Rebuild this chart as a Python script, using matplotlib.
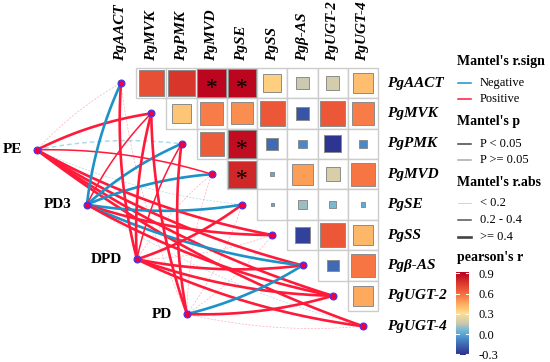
import numpy as np
import matplotlib.pyplot as plt
from matplotlib.colors import LinearSegmentedColormap, Normalize
from matplotlib.patches import Rectangle
from matplotlib.cm import ScalarMappable

plt.rcParams['font.family'] = ['Liberation Serif', 'DejaVu Serif']

genes = ['PgAACT', 'PgMVK', 'PgPMK', 'PgMVD', 'PgSE', 'PgSS', 'Pgβ-AS', 'PgUGT-2', 'PgUGT-4']
envs = ['PE', 'PD3', 'DPD', 'PD']

# pearson's r between genes, upper triangle: row i holds columns i+1 .. 8
pearson_r = [
    [0.68, 0.76, 0.90, 0.90, 0.35, 0.17, 0.19, 0.40],
    [0.38, 0.56, 0.52, 0.66, -0.20, 0.66, 0.56],
    [0.65, 0.88, -0.15, -0.07, -0.30, -0.07],
    [0.80, 0.02, 0.48, 0.20, 0.58],
    [0.01, 0.10, 0.06, 0.02],
    [-0.26, 0.66, 0.42],
    [-0.15, 0.58],
    [0.45],
    [],
]
# significant pairs (row, col)
stars = [(0, 3), (0, 4), (2, 4), (3, 4)]

# mantel test, env -> each gene
mantel_r = {
    'PE':  [0.12, 0.45, -0.22, 0.30, -0.15, 0.42, 0.46, 0.48, 0.44],
    'PD3': [-0.45, 0.30, -0.46, -0.43, -0.47, 0.44, -0.48, 0.45, -0.10],
    'DPD': [0.46, 0.44, 0.30, 0.12, 0.42, 0.10, 0.41, 0.45, 0.43],
    'PD':  [0.10, 0.43, 0.42, 0.12, 0.08, 0.10, -0.44, 0.46, 0.15],
}
mantel_p = {
    'PE':  [0.30, 0.01, 0.20, 0.03, 0.40, 0.01, 0.01, 0.01, 0.01],
    'PD3': [0.01, 0.02, 0.01, 0.01, 0.01, 0.01, 0.01, 0.01, 0.50],
    'DPD': [0.01, 0.01, 0.03, 0.30, 0.01, 0.40, 0.02, 0.01, 0.01],
    'PD':  [0.40, 0.01, 0.01, 0.30, 0.60, 0.50, 0.01, 0.01, 0.20],
}

RED = '#ff1a3a'
BLUE = '#1b92c8'

cmap = LinearSegmentedColormap.from_list('pr', [
    (0.00, '#2c318f'), (0.09, '#3a56a6'), (0.19, '#4a88c6'), (0.27, '#5bb0db'),
    (0.375, '#c5c6b5'), (0.50, '#fee08e'), (0.62, '#fdaa5e'), (0.74, '#f66d3f'),
    (0.86, '#dc3a2c'), (1.00, '#b8001f')])
norm = Normalize(vmin=-0.31, vmax=0.92)

W, H = 550, 362
fig = plt.figure(figsize=(W / 100, H / 100), dpi=100)
ax = fig.add_axes([0, 0, 1, 1])
# one unit = one heatmap cell
cx, cy, x0, y0 = 30.25, 30.4, 121, 83
ax.set_xlim(-x0 / cx, (W - x0) / cx)
ax.set_ylim((H - y0) / cy, -y0 / cy)
ax.axis('off')

n = len(genes)

# heatmap
for i in range(n):
    for k, r in enumerate(pearson_r[i]):
        j = i + 1 + k
        ax.add_patch(Rectangle((j - 0.5, i - 0.5), 1, 1, fc='white', ec='#cccccc', lw=1.0, zorder=3))
        s = 0.95 * np.sqrt(abs(r) / 0.9)
        ax.add_patch(Rectangle((j - s / 2, i - s / 2), s, s, fc=cmap(norm(r)), ec='#8c8c8c', lw=0.7, zorder=4))
for i, j in stars:
    ax.text(j, i + 0.18, '*', ha='center', va='center', fontsize=17, zorder=5)

# labels
for j, g in enumerate(genes):
    ax.text(j, -0.72, g, rotation=90, ha='center', va='bottom', fontsize=11,
            fontweight='bold', fontstyle='italic')
for i, g in enumerate(genes):
    ax.text(8.8, i, g, ha='left', va='center', fontsize=11, fontweight='bold', fontstyle='italic')

# env nodes along a line
env_x = np.linspace(-2.78, 2.18, len(envs))
env_y = np.linspace(2.2, 7.6, len(envs))


def width_of(r):
    a = abs(r)
    if a < 0.2:
        return 0.5
    if a < 0.4:
        return 1.1
    return 1.9


t = np.linspace(0, 1, 60)[:, None]
for sig_pass in (False, True):
    for e, ex, ey in zip(envs, env_x, env_y):
        for g in range(n):
            r = mantel_r[e][g]
            sig = mantel_p[e][g] < 0.05
            if sig != sig_pass:
                continue
            p0 = np.array([ex, ey])
            p1 = np.array([g, g], dtype=float)
            d = p1 - p0
            left = np.array([d[1], -d[0]])
            side = 1 if g < 4 else -1
            c = (p0 + p1) / 2 + 0.08 * side * left
            pts = (1 - t) ** 2 * p0 + 2 * (1 - t) * t * c + t ** 2 * p1
            col = RED if r > 0 else BLUE
            if sig:
                ax.plot(pts[:, 0], pts[:, 1], color=col, lw=width_of(r), solid_capstyle='round', zorder=2)
            else:
                ax.plot(pts[:, 0], pts[:, 1], color=col, lw=width_of(r), alpha=0.35,
                        ls=(0, (3, 2)), zorder=1)

ax.plot(range(n), range(n), ls='none', marker='o', ms=5, mfc='#f0003c', mec='#3a3aff', mew=0.8, zorder=6)
ax.plot(env_x, env_y, ls='none', marker='o', ms=5, mfc='#f0003c', mec='#3a3aff', mew=0.8, zorder=6)
for e, ex, ey in zip(envs, env_x, env_y):
    ax.text(ex - 0.5, ey, e, ha='right', va='center', fontsize=11, fontweight='bold')


# legend, in pixel positions
def px(x, y):
    return x / W, 1 - y / H


def leg_title(y, s):
    fig.text(*px(457, y), s, ha='left', va='center', fontsize=10, fontweight='bold')


def leg_item(y, s, color, lw):
    xa, ya = px(458, y)
    xb, _ = px(471, y)
    fig.add_artist(plt.Line2D([xa, xb], [ya, ya], color=color, lw=lw, transform=fig.transFigure))
    fig.text(*px(480, y), s, ha='left', va='center', fontsize=9)


leg_title(62, "Mantel's r.sign")
leg_item(83, 'Negative', BLUE, 1.1)
leg_item(99, 'Positive', RED, 1.1)
leg_title(122, "Mantel's p")
leg_item(144, 'P < 0.05', '#444444', 1.1)
leg_item(160, 'P >= 0.05', '#aaaaaa', 1.1)
leg_title(183, "Mantel's r.abs")
leg_item(203, '< 0.2', '#cccccc', 0.6)
leg_item(220, '0.2 - 0.4', '#555555', 1.1)
leg_item(237, '>= 0.4', '#444444', 1.9)
leg_title(257, "pearson's r")

cax = fig.add_axes([456 / W, 1 - 355 / H, 13 / W, 83 / H])
cb = fig.colorbar(ScalarMappable(norm=norm, cmap=cmap), cax=cax)
cb.outline.set_visible(False)
ticks = [0.9, 0.6, 0.3, 0.0, -0.3]
cb.set_ticks(ticks)
cb.set_ticklabels([f'{v:.1f}' for v in ticks])
cax.tick_params(length=0, labelsize=9, pad=7)
for v in ticks:
    cax.plot([0, 0.2], [v, v], color='white', lw=0.8, transform=cax.get_yaxis_transform())
    cax.plot([0.8, 1], [v, v], color='white', lw=0.8, transform=cax.get_yaxis_transform())

fig.savefig('out.png', dpi=100)
